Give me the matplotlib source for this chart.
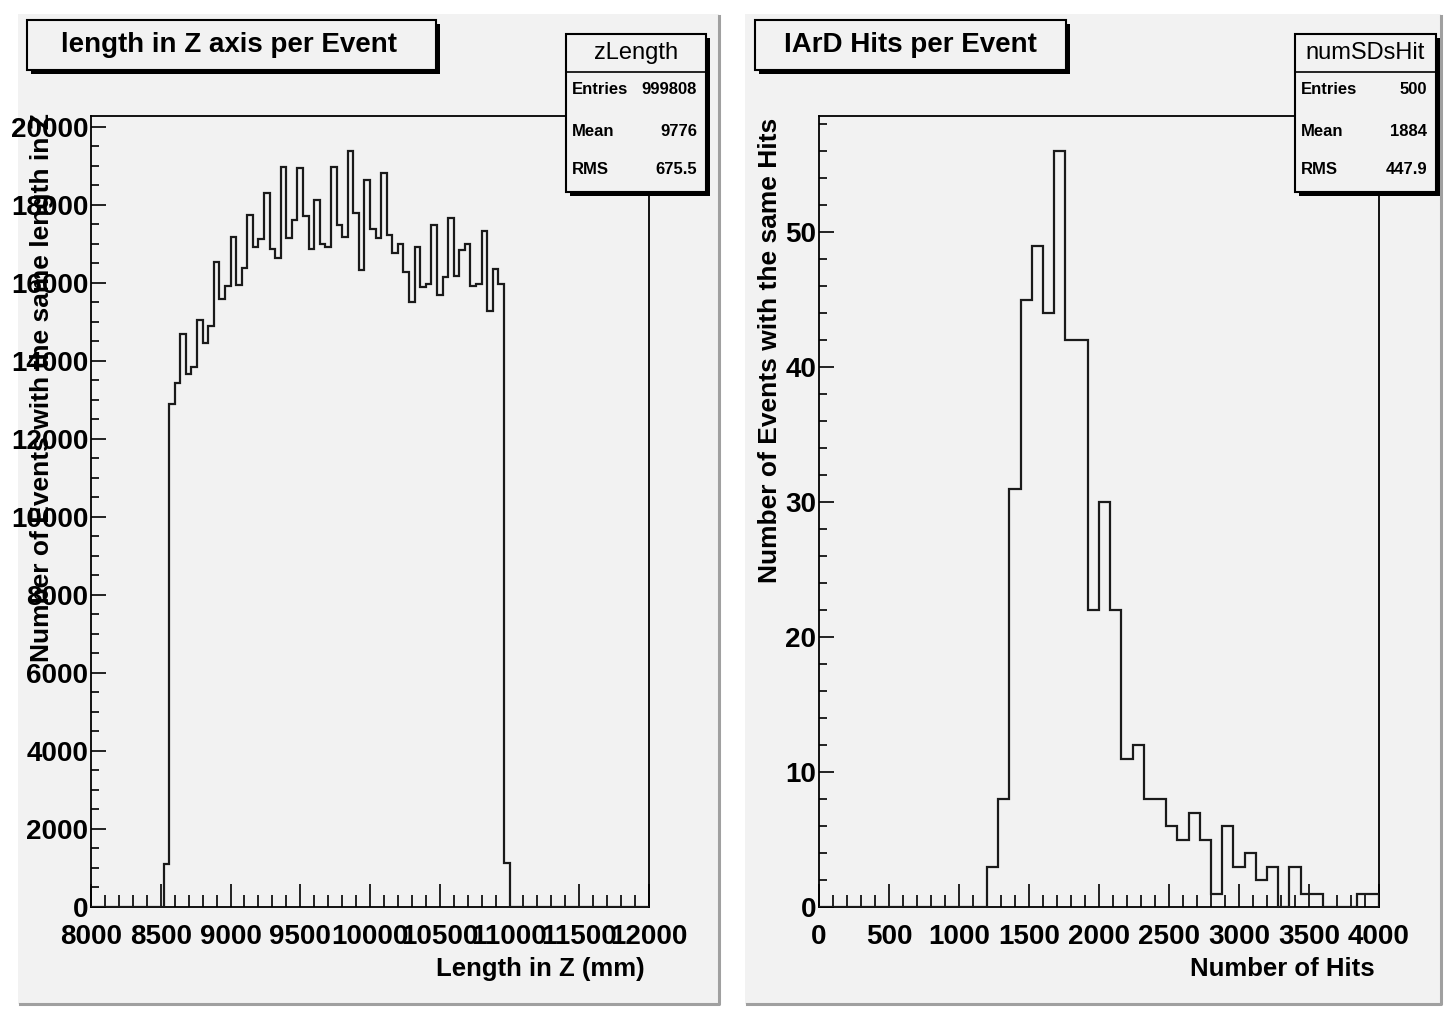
import numpy as np
import matplotlib
matplotlib.use("Agg")
import matplotlib.pyplot as plt
from matplotlib import ticker
from matplotlib.patches import Rectangle

plt.rcParams['font.family'] = ['Liberation Sans', 'DejaVu Sans']

# zLength histogram: 100 bins of 40 mm from 8000 to 12000, non-empty bins 13..74
z_lo, z_hi, z_nbins = 8000, 12000, 100
z_first_bin = 13
z_counts = [1100, 12890, 13444, 14692, 13675, 13855, 15051, 14453, 14906, 16547,
            15582, 15923, 17188, 15949, 16376, 17744, 16931, 17120, 18317, 16863,
            16632, 18983, 17145, 17616, 18940, 17718, 16863, 18128, 17000, 16931,
            18983, 17487, 17188, 19393, 17786, 16333, 18641, 17384, 17145, 18829,
            17222, 16777, 17000, 16290, 15505, 16931, 15889, 15966, 17487, 15692,
            16144, 17675, 16188, 16846, 17000, 15923, 15966, 17342, 15282, 16368,
            15966, 1120]
z_stats = [("Entries", "999808"), ("Mean", "9776"), ("RMS", "675.5")]

# numSDsHit histogram: 50 bins of 80 from 0 to 4000, non-empty bins 15..49
h_lo, h_hi, h_nbins = 0, 4000, 50
h_first_bin = 15
h_counts = [3, 8, 31, 45, 49, 44, 56, 42, 42, 22, 30, 22, 11, 12, 8, 8, 6, 5, 7, 5,
            1, 6, 3, 4, 2, 3, 0, 3, 1, 1, 0, 0, 0, 1, 1]
h_stats = [("Entries", "500"), ("Mean", "1884"), ("RMS", "447.9")]

W, H = 1445, 1009
BG = '#f2f2f2'

fig = plt.figure(figsize=(W / 100, H / 100), dpi=100)
fig.patch.set_facecolor('white')


def fx(x):
    return x / W


def fy(y):
    return 1 - y / H


def box(x0, y0, x1, y1, shadow=4, lw=1.5, face=BG):
    # ROOT style box with black drop shadow, pixel coords
    fig.add_artist(Rectangle((fx(x0 + shadow), fy(y1 + shadow)), fx(x1 - x0), (y1 - y0) / H,
                             transform=fig.transFigure, facecolor='black', edgecolor='none', zorder=5))
    fig.add_artist(Rectangle((fx(x0), fy(y1)), fx(x1 - x0), (y1 - y0) / H,
                             transform=fig.transFigure, facecolor=face, edgecolor='black', lw=lw, zorder=6))


def pad(x0, y0, x1, y1):
    fig.add_artist(Rectangle((fx(x0), fy(y1)), fx(x1 - x0), (y1 - y0) / H,
                             transform=fig.transFigure, facecolor=BG, edgecolor='none', zorder=0))
    fig.add_artist(plt.Line2D([fx(x0 + 2), fx(x1), fx(x1)], [fy(y1), fy(y1), fy(y0 + 2)],
                              transform=fig.transFigure, color='#a0a0a0', lw=2.2, zorder=1))


def hist_panel(ax_rect, lo, hi, nbins, first, counts, ymax, xmaj, xmin, ymaj, ymin):
    ax = fig.add_axes(ax_rect)
    ax.set_facecolor(BG)
    full = np.zeros(nbins)
    full[first:first + len(counts)] = counts
    edges = np.linspace(lo, hi, nbins + 1)
    ax.stairs(full, edges, baseline=0, color='#1a1a1a', lw=1.6, zorder=3)
    ax.set_xlim(lo, hi)
    ax.set_ylim(0, ymax)
    ax.xaxis.set_major_locator(ticker.MultipleLocator(xmaj))
    ax.xaxis.set_minor_locator(ticker.MultipleLocator(xmin))
    ax.yaxis.set_major_locator(ticker.MultipleLocator(ymaj))
    ax.yaxis.set_minor_locator(ticker.MultipleLocator(ymin))
    ax.tick_params(axis='x', which='major', direction='in', length=16.5, width=1.2, pad=12,
                   labelsize=20, labelcolor='black')
    ax.tick_params(axis='x', which='minor', direction='in', length=8.5, width=1.2)
    ax.tick_params(axis='y', which='major', direction='in', length=11, width=1.2, pad=2,
                   labelsize=20)
    ax.tick_params(axis='y', which='minor', direction='in', length=5.5, width=1.2)
    for lab in ax.get_xticklabels() + ax.get_yticklabels():
        lab.set_fontweight('bold')
    for s in ax.spines.values():
        s.set_linewidth(1.3)
    return ax


def axrect(x0, y0, x1, y1):
    return [fx(x0), fy(y1), fx(x1 - x0), (y1 - y0) / H]


# pads
pad(18, 14, 719, 1004)
pad(745, 14, 1441, 1004)

ax1 = hist_panel(axrect(91, 116, 649, 907), z_lo, z_hi, z_nbins, z_first_bin, z_counts,
                 20282, 500, 100, 2000, 500)
ax2 = hist_panel(axrect(819, 116, 1379, 907), h_lo, h_hi, h_nbins, h_first_bin, h_counts,
                 58.6, 500, 100, 10, 2)

# axis titles
fig.text(fx(645), fy(969), "Length in Z (mm)", ha='right', va='center', fontsize=18.5, fontweight='bold')
fig.text(fx(1375), fy(969), "Number of Hits", ha='right', va='center', fontsize=18.5, fontweight='bold')
fig.text(fx(42), fy(113), "Number of Events with the same length in Z", rotation=90,
         ha='center', va='top', fontsize=19, fontweight='bold')
fig.text(fx(770), fy(118), "Number of Events with the same Hits", rotation=90,
         ha='center', va='top', fontsize=19, fontweight='bold')

# title boxes
box(27, 20, 436, 70)
fig.text(fx(229), fy(45), "length in Z axis per Event", ha='center', va='center',
         fontsize=20, fontweight='bold', zorder=7)
box(755, 20, 1066, 70)
fig.text(fx(910), fy(45), "IArD Hits per Event", ha='center', va='center',
         fontsize=20, fontweight='bold', zorder=7)


# stats boxes
def stats(x0, x1, name, rows):
    box(x0, 34, x1, 192)
    fig.add_artist(plt.Line2D([fx(x0), fx(x1)], [fy(72), fy(72)], transform=fig.transFigure,
                              color='black', lw=1.2, zorder=7))
    fig.text(fx((x0 + x1) / 2), fy(53), name, ha='center', va='center', fontsize=17, zorder=7)
    for (k, v), yy in zip(rows, [90, 131, 170]):
        fig.text(fx(x0 + 6), fy(yy), k, ha='left', va='center', fontsize=12, fontweight='bold', zorder=7)
        fig.text(fx(x1 - 9), fy(yy), v, ha='right', va='center', fontsize=12, fontweight='bold', zorder=7)


stats(566, 706, "zLength", z_stats)
stats(1295, 1436, "numSDsHit", h_stats)

fig.savefig("out.png", dpi=100, facecolor='white')
